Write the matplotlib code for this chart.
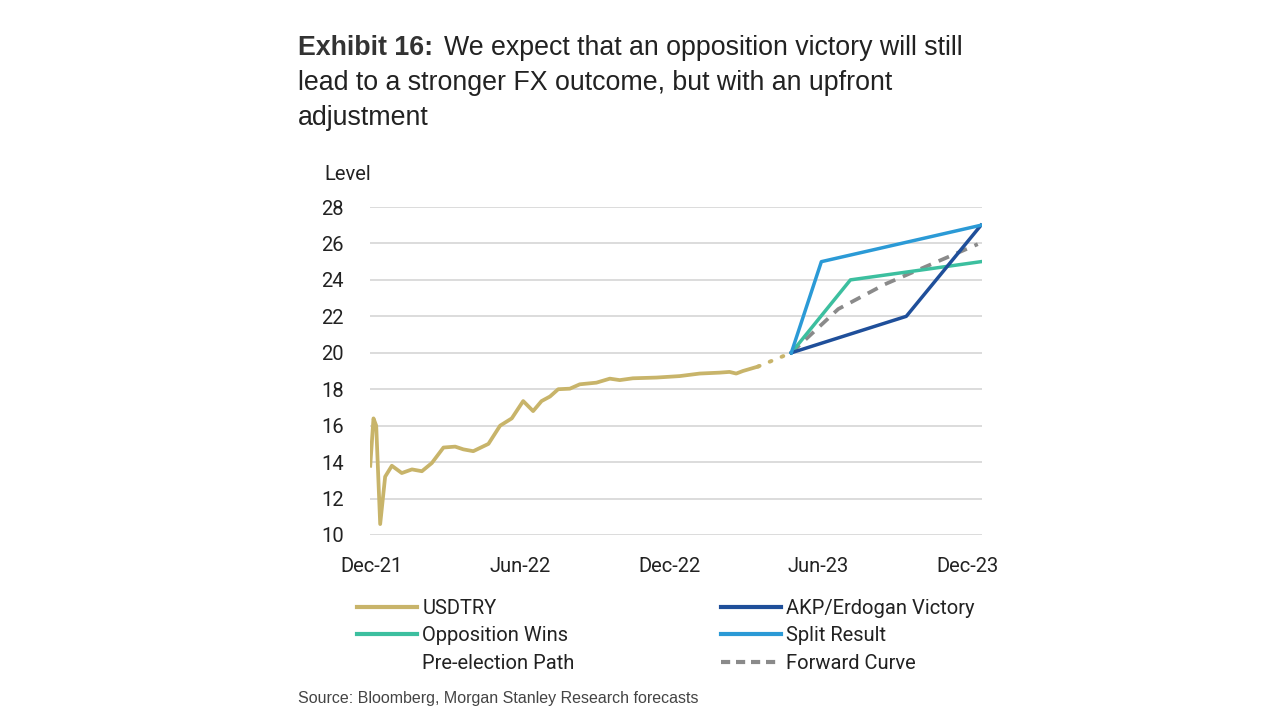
import matplotlib
matplotlib.use("Agg")
import matplotlib.pyplot as plt
from matplotlib.lines import Line2D
import matplotlib.font_manager as fm

# ---------------- data (x in months since Dec-21) ----------------
usd_x = [-0.04, 0.09, 0.20, 0.36, 0.56, 0.83, 1.23, 1.64, 2.04, 2.44, 2.91, 3.38,
         3.71, 4.11, 4.72, 5.19, 5.66, 6.12, 6.52, 6.86, 7.20, 7.53, 8.00, 8.40,
         9.07, 9.61, 10.01, 10.54, 11.49, 12.42, 13.23, 14.03, 14.43, 14.70,
         14.97, 15.57]
usd_y = [13.8, 16.4, 16.0, 10.6, 13.2, 13.8, 13.4, 13.6, 13.5, 13.95, 14.8, 14.85,
         14.7, 14.6, 15.0, 16.0, 16.4, 17.35, 16.8, 17.35, 17.6, 18.0, 18.03, 18.27,
         18.36, 18.58, 18.5, 18.6, 18.64, 18.72, 18.86, 18.91, 18.95, 18.86,
         19.0, 19.24]
pre_x = [15.57, 16.92]
pre_y = [19.24, 20.0]
akp_x = [16.92, 21.55, 24.56]
akp_y = [20.0, 22.0, 27.0]
opp_x = [16.92, 19.30, 24.56]
opp_y = [20.0, 24.0, 25.0]
split_x = [16.92, 18.13, 24.56]
split_y = [20.0, 25.0, 27.0]
fwd_x = [16.92, 18.81, 20.69, 22.56, 24.43]
fwd_y = [20.0, 22.4, 23.76, 24.86, 25.96]

tick_pos = [0, 6, 12, 18, 24]
tick_labels = ["Dec-21", "Jun-22", "Dec-22", "Jun-23", "Dec-23"]
yticks = [10, 12, 14, 16, 18, 20, 22, 24, 26, 28]

# ---------------- styling ----------------
names = {f.name for f in fm.fontManager.ttflist}
narrow = "Liberation Sans Narrow" if "Liberation Sans Narrow" in names else "Roboto"
plt.rcParams["font.family"] = [narrow, "DejaVu Sans"]
FS = 14.5

C_USD = "#c8b46a"
C_AKP = "#1f4f9a"
C_OPP = "#3cbf9f"
C_SPLIT = "#2b9ad6"
C_FWD = "#8a8a8a"
TXT = "#222222"

fig = plt.figure(figsize=(12.8, 7.2), dpi=100)
fig.patch.set_facecolor("white")

ax = fig.add_axes([370 / 1280, 1 - 535 / 720, 612 / 1280, 328 / 720])
ax.set_facecolor("none")

ax.plot(usd_x, usd_y, color=C_USD, lw=2.7, solid_joinstyle="round", zorder=3)
ax.plot(pre_x, pre_y, color=C_USD, lw=2.8, linestyle=(0, (0.5, 2.8)),
        dash_capstyle="round", zorder=3)
ax.plot(fwd_x, fwd_y, color=C_FWD, lw=2.7, linestyle=(0, (3, 2.2)), zorder=4)
ax.plot(opp_x, opp_y, color=C_OPP, lw=2.5, zorder=5)
ax.plot(akp_x, akp_y, color=C_AKP, lw=2.5, zorder=5)
ax.plot(split_x, split_y, color=C_SPLIT, lw=2.5, zorder=6)

ax.set_xlim(-0.05, 24.6)
ax.set_ylim(10, 28)
ax.set_yticks(yticks)
ax.set_xticks(tick_pos)
ax.set_xticklabels(tick_labels)
ax.grid(axis="y", color="#d9d9d9", lw=1.3, zorder=0)
ax.set_axisbelow(True)
for s in ax.spines.values():
    s.set_visible(False)
ax.tick_params(axis="both", length=0, labelsize=FS, colors=TXT)
ax.tick_params(axis="y", pad=19)
ax.tick_params(axis="x", pad=16)

fig.text(324 / 1280, 1 - 174 / 720, "Level", fontsize=FS, color=TXT,
         va="center", ha="left")

# title
tfont = ["Liberation Sans", "DejaVu Sans"]
TS = 19.3
fig.text(298 / 1280, 1 - 48 / 720, "Exhibit 16:", fontsize=TS, fontweight="bold",
         color="#333333", va="center", ha="left", family=tfont)
fig.text(444 / 1280, 1 - 48 / 720, "We expect that an opposition victory will still",
         fontsize=TS, color=TXT, va="center", ha="left", family=tfont)
fig.text(298 / 1280, 1 - 83 / 720, "lead to a stronger FX outcome, but with an upfront",
         fontsize=TS, color=TXT, va="center", ha="left", family=tfont)
fig.text(298 / 1280, 1 - 118 / 720, "adjustment",
         fontsize=TS, color=TXT, va="center", ha="left", family=tfont)

# legends
h_usd = Line2D([], [], color=C_USD, lw=3)
h_opp = Line2D([], [], color=C_OPP, lw=3)
h_pre = Line2D([], [], color="none", lw=3)
h_akp = Line2D([], [], color=C_AKP, lw=3)
h_split = Line2D([], [], color=C_SPLIT, lw=3)
h_fwd = Line2D([], [], color=C_FWD, lw=3, linestyle=(0, (2.2, 1.4)))

common = dict(frameon=False, fontsize=FS, handlelength=3.0, handletextpad=0.25,
              labelspacing=0.42, borderpad=0, borderaxespad=0, labelcolor=TXT)
leg1 = fig.legend([h_usd, h_opp, h_pre], ["USDTRY", "Opposition Wins", "Pre-election Path"],
                  loc="upper left", bbox_to_anchor=(357 / 1280, 1 - 599 / 720), **common)
leg2 = fig.legend([h_akp, h_split, h_fwd],
                  ["AKP/Erdogan Victory", "Split Result", "Forward Curve"],
                  loc="upper left", bbox_to_anchor=(721 / 1280, 1 - 599 / 720), **common)

fig.text(298 / 1280, 1 - 699 / 720, "Source: Bloomberg, Morgan Stanley Research forecasts",
         fontsize=11.5, color="#444444", va="center", ha="left", family=tfont)

fig.savefig("out.png", dpi=100, facecolor=fig.get_facecolor())
